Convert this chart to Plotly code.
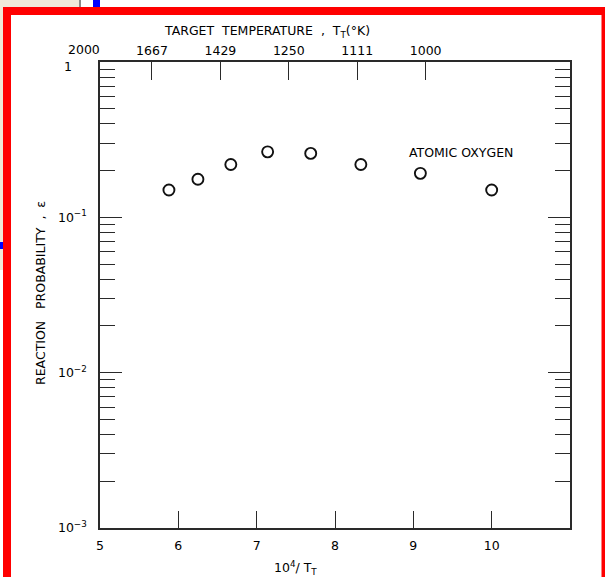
import math
import plotly.graph_objects as go

# Reaction probability of atomic oxygen vs. reciprocal target temperature
inv_temp = [5.88, 6.25, 6.67, 7.14, 7.69, 8.33, 9.09, 10.0]          # 10^4 / T_T
reaction_prob = [0.150, 0.176, 0.219, 0.264, 0.258, 0.219, 0.192, 0.150]

bottom_tick_vals = [5, 6, 7, 8, 9, 10]
top_tick_vals = [6, 7, 8, 9, 10]
top_tick_text = ["1667", "1429", "1250", "1111", "1000"]
top_first_val, top_first_text = 5, "2000"
y_tick_vals = [0.1, 0.01, 0.001]
y_tick_text = ["10<sup>−1</sup>", "10<sup>−2</sup>", "10<sup>−3</sup>"]
y_top_val, y_top_text = 1, "1"
y_minor_vals = [m * 10.0 ** e for e in (-3, -2, -1) for m in range(2, 10)]

X_RANGE = [5, 11]
X2_RANGE = [5.24, 12.11]
Y_RANGE = [-3, 0]

W, H = 605, 577
PL, PR, PT, PB = 100, 570, 62, 528   # plot area in pixels

INK = "#000000"
FONT = dict(family="DejaVu Sans", size=12.5, color=INK)
NB = "\u00a0"


def px(x):
    return (x - PL) / (PR - PL)


def py(y):
    return (PB - y) / (PB - PT)


fig = go.Figure()

fig.add_trace(go.Scatter(
    x=inv_temp, y=reaction_prob, mode="markers",
    marker=dict(symbol="circle-open", size=11, color="#111",
                line=dict(width=1.9, color="#111")),
    showlegend=False, hoverinfo="x+y",
))
# carries the top temperature axis
fig.add_trace(go.Scatter(
    x=top_tick_vals, y=[None] * len(top_tick_vals), xaxis="x2", mode="markers",
    showlegend=False, hoverinfo="skip",
))

line_style = dict(showline=True, linecolor="#2a2a2a", linewidth=1.5,
                  showgrid=False, zeroline=False, tickcolor="#2a2a2a", tickwidth=1.4,
                  tickfont=FONT)

fig.update_layout(
    width=W, height=H,
    margin=dict(l=PL, r=W - PR, t=PT, b=H - PB),
    paper_bgcolor="white", plot_bgcolor="white",
    showlegend=False,
    xaxis=dict(range=X_RANGE, tickvals=bottom_tick_vals, ticks="inside", ticklen=17,
               ticklabelstandoff=5, mirror=False, **line_style),
    xaxis2=dict(overlaying="x", side="top", range=X2_RANGE,
                tickvals=top_tick_vals, ticktext=top_tick_text,
                ticks="inside", ticklen=18, ticklabelstandoff=0, **line_style),
    yaxis=dict(type="log", range=Y_RANGE, tickvals=y_tick_vals, ticktext=y_tick_text,
               ticks="inside", ticklen=22, ticklabelstandoff=9, mirror="ticks",
               minor=dict(tickvals=y_minor_vals, ticks="inside", ticklen=15,
                          tickwidth=1.2, tickcolor="#2a2a2a"),
               **line_style),
)

# "1" at the top corner of the probability axis, set a little below the corner
fig.add_annotation(x=px(74), y=math.log10(y_top_val), xref="paper", yref="y", yshift=-4,
                   text=y_top_text, showarrow=False, xanchor="right", yanchor="middle",
                   font=FONT)
# top-axis label that sits left of the plot edge
first_x = (top_first_val - X2_RANGE[0]) / (X2_RANGE[1] - X2_RANGE[0])
fig.add_annotation(x=first_x, y=py(49), xref="paper", yref="paper", text=top_first_text,
                   showarrow=False, xanchor="center", yanchor="middle", font=FONT)
fig.add_annotation(x=px(267), y=py(31), xref="paper", yref="paper",
                   text=f"TARGET{NB*2}TEMPERATURE{NB*2},{NB*2}T<sub>T</sub>(°K)",
                   showarrow=False, xanchor="center", yanchor="middle", font=FONT)
fig.add_annotation(x=px(295), y=py(568), xref="paper", yref="paper",
                   text="10<sup>4</sup>/ T<sub>T</sub>",
                   showarrow=False, xanchor="center", yanchor="middle", font=FONT)
fig.add_annotation(x=px(40), y=py(293), xref="paper", yref="paper",
                   text=f"REACTION{NB*3}PROBABILITY{NB*2},{NB*2}ε", textangle=-90,
                   showarrow=False, xanchor="center", yanchor="middle", font=FONT)
fig.add_annotation(x=px(461), y=py(152), xref="paper", yref="paper",
                   text=f"ATOMIC{NB}OXYGEN",
                   showarrow=False, xanchor="center", yanchor="middle", font=FONT)

# page frame around the figure
BEIGE = "#f0e8d8"
fig.add_shape(type="rect", xref="paper", yref="paper",
              x0=px(0), x1=px(80), y0=py(0), y1=py(8),
              fillcolor=BEIGE, line=dict(width=0))
fig.add_shape(type="rect", xref="paper", yref="paper",
              x0=px(0), x1=px(3), y0=py(0), y1=py(270),
              fillcolor=BEIGE, line=dict(width=0))
fig.add_shape(type="line", xref="paper", yref="paper",
              x0=px(80), x1=px(80), y0=py(0), y1=py(8),
              line=dict(color="#8a8a8a", width=2))
fig.add_shape(type="rect", xref="paper", yref="paper",
              x0=px(93), x1=px(100), y0=py(0), y1=py(8),
              fillcolor="#0000ff", line=dict(width=0))
fig.add_shape(type="rect", xref="paper", yref="paper",
              x0=px(0), x1=px(3), y0=py(242), y1=py(249),
              fillcolor="#0000ff", line=dict(width=0))
fig.add_shape(type="rect", xref="paper", yref="paper",
              x0=px(7), x1=px(605.5), y0=py(11), y1=py(592),
              fillcolor="rgba(0,0,0,0)", line=dict(color="#ff0000", width=8))

fig.write_html("out.html")
